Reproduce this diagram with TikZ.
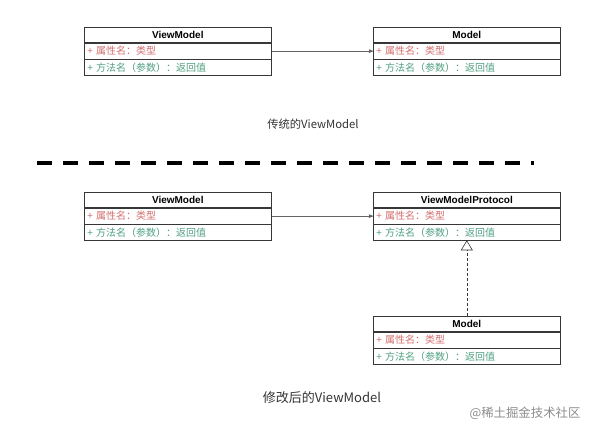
\documentclass[tikz,border=0pt]{standalone}
\usepackage{fontspec}
\setmainfont{Liberation Sans}
\newfontfamily\cjk{Noto Sans CJK SC}
\usepackage{tikz}
\usetikzlibrary{arrows,arrows.meta,positioning}
\definecolor{boxline}{RGB}{55,55,55}
\definecolor{attrred}{RGB}{210,110,110}
\definecolor{opgreen}{RGB}{80,160,130}
\definecolor{linkgray}{RGB}{100,100,100}

\begin{document}
\begin{tikzpicture}[x=1pt,y=-1pt,>=stealth',semithick]
\tikzstyle{every node}=[inner sep=0pt]
\tikzstyle{classhead}=[draw=boxline,fill=white,text width=181pt,inner xsep=3pt,
                       minimum height=15.5pt,align=center,font=\bfseries\fontsize{10}{11}\selectfont]
\tikzstyle{classattr}=[classhead,align=left,text=attrred,font=\cjk\fontsize{10}{11}\selectfont]
\tikzstyle{classop}=[classattr,text=opgreen]
\tikzstyle{caption}=[font=\cjk\fontsize{11.3}{13}\selectfont,text=black!80]
\useasboundingbox (0,0) rectangle (594,443);

% traditional ViewModel
\node [classhead,anchor=north west] (vm) at (84,27) {ViewModel};
\node [classattr,below=0pt of vm] (vmAttr) {+ 属性名：类型};
\node [classop,below=0pt of vmAttr] (vmOp) {+ 方法名（参数）：返回值};

\node [classhead,anchor=north west] (m) at (373,27) {Model};
\node [classattr,below=0pt of m] (mAttr) {+ 属性名：类型};
\node [classop,below=0pt of mAttr] (mOp) {+ 方法名（参数）：返回值};

\draw [->,linkgray] (vmAttr.east) -- (mAttr.west);
\node [caption] (capOld) at (313,124) {传统的ViewModel};

% divider
\coordinate (divL) at (37,163);
\coordinate (divR) at (534,163);
\draw [line width=3.5pt,dash pattern=on 15pt off 11pt] (divL) -- (divR);

% modified ViewModel
\node [classhead,anchor=north west] (vm2) at (84,192) {ViewModel};
\node [classattr,below=0pt of vm2] (vm2Attr) {+ 属性名：类型};
\node [classop,below=0pt of vm2Attr] (vm2Op) {+ 方法名（参数）：返回值};

\node [classhead,anchor=north west] (vmp) at (373,192) {ViewModelProtocol};
\node [classattr,below=0pt of vmp] (vmpAttr) {+ 属性名：类型};
\node [classop,below=0pt of vmpAttr] (vmpOp) {+ 方法名（参数）：返回值};

\node [classhead,anchor=north west] (m2) at (373,316) {Model};
\node [classattr,below=0pt of m2] (m2Attr) {+ 属性名：类型};
\node [classop,below=0pt of m2Attr] (m2Op) {+ 方法名（参数）：返回值};

\draw [->,linkgray] (vm2Attr.east) -- (vmpAttr.west);
\draw [-{Triangle[open,width=12pt,length=10pt]},boxline,dash pattern=on 3pt off 2pt]
      (m2.north) -- (vmpOp.south);
\node [caption,font=\cjk\fontsize{13}{15}\selectfont] (capNew) at (322,398) {修改后的ViewModel};

\node [font=\cjk\fontsize{12.4}{14}\selectfont,text=black!45] (mark) at (525,413) {@稀土掘金技术社区};
\end{tikzpicture}
\end{document}
